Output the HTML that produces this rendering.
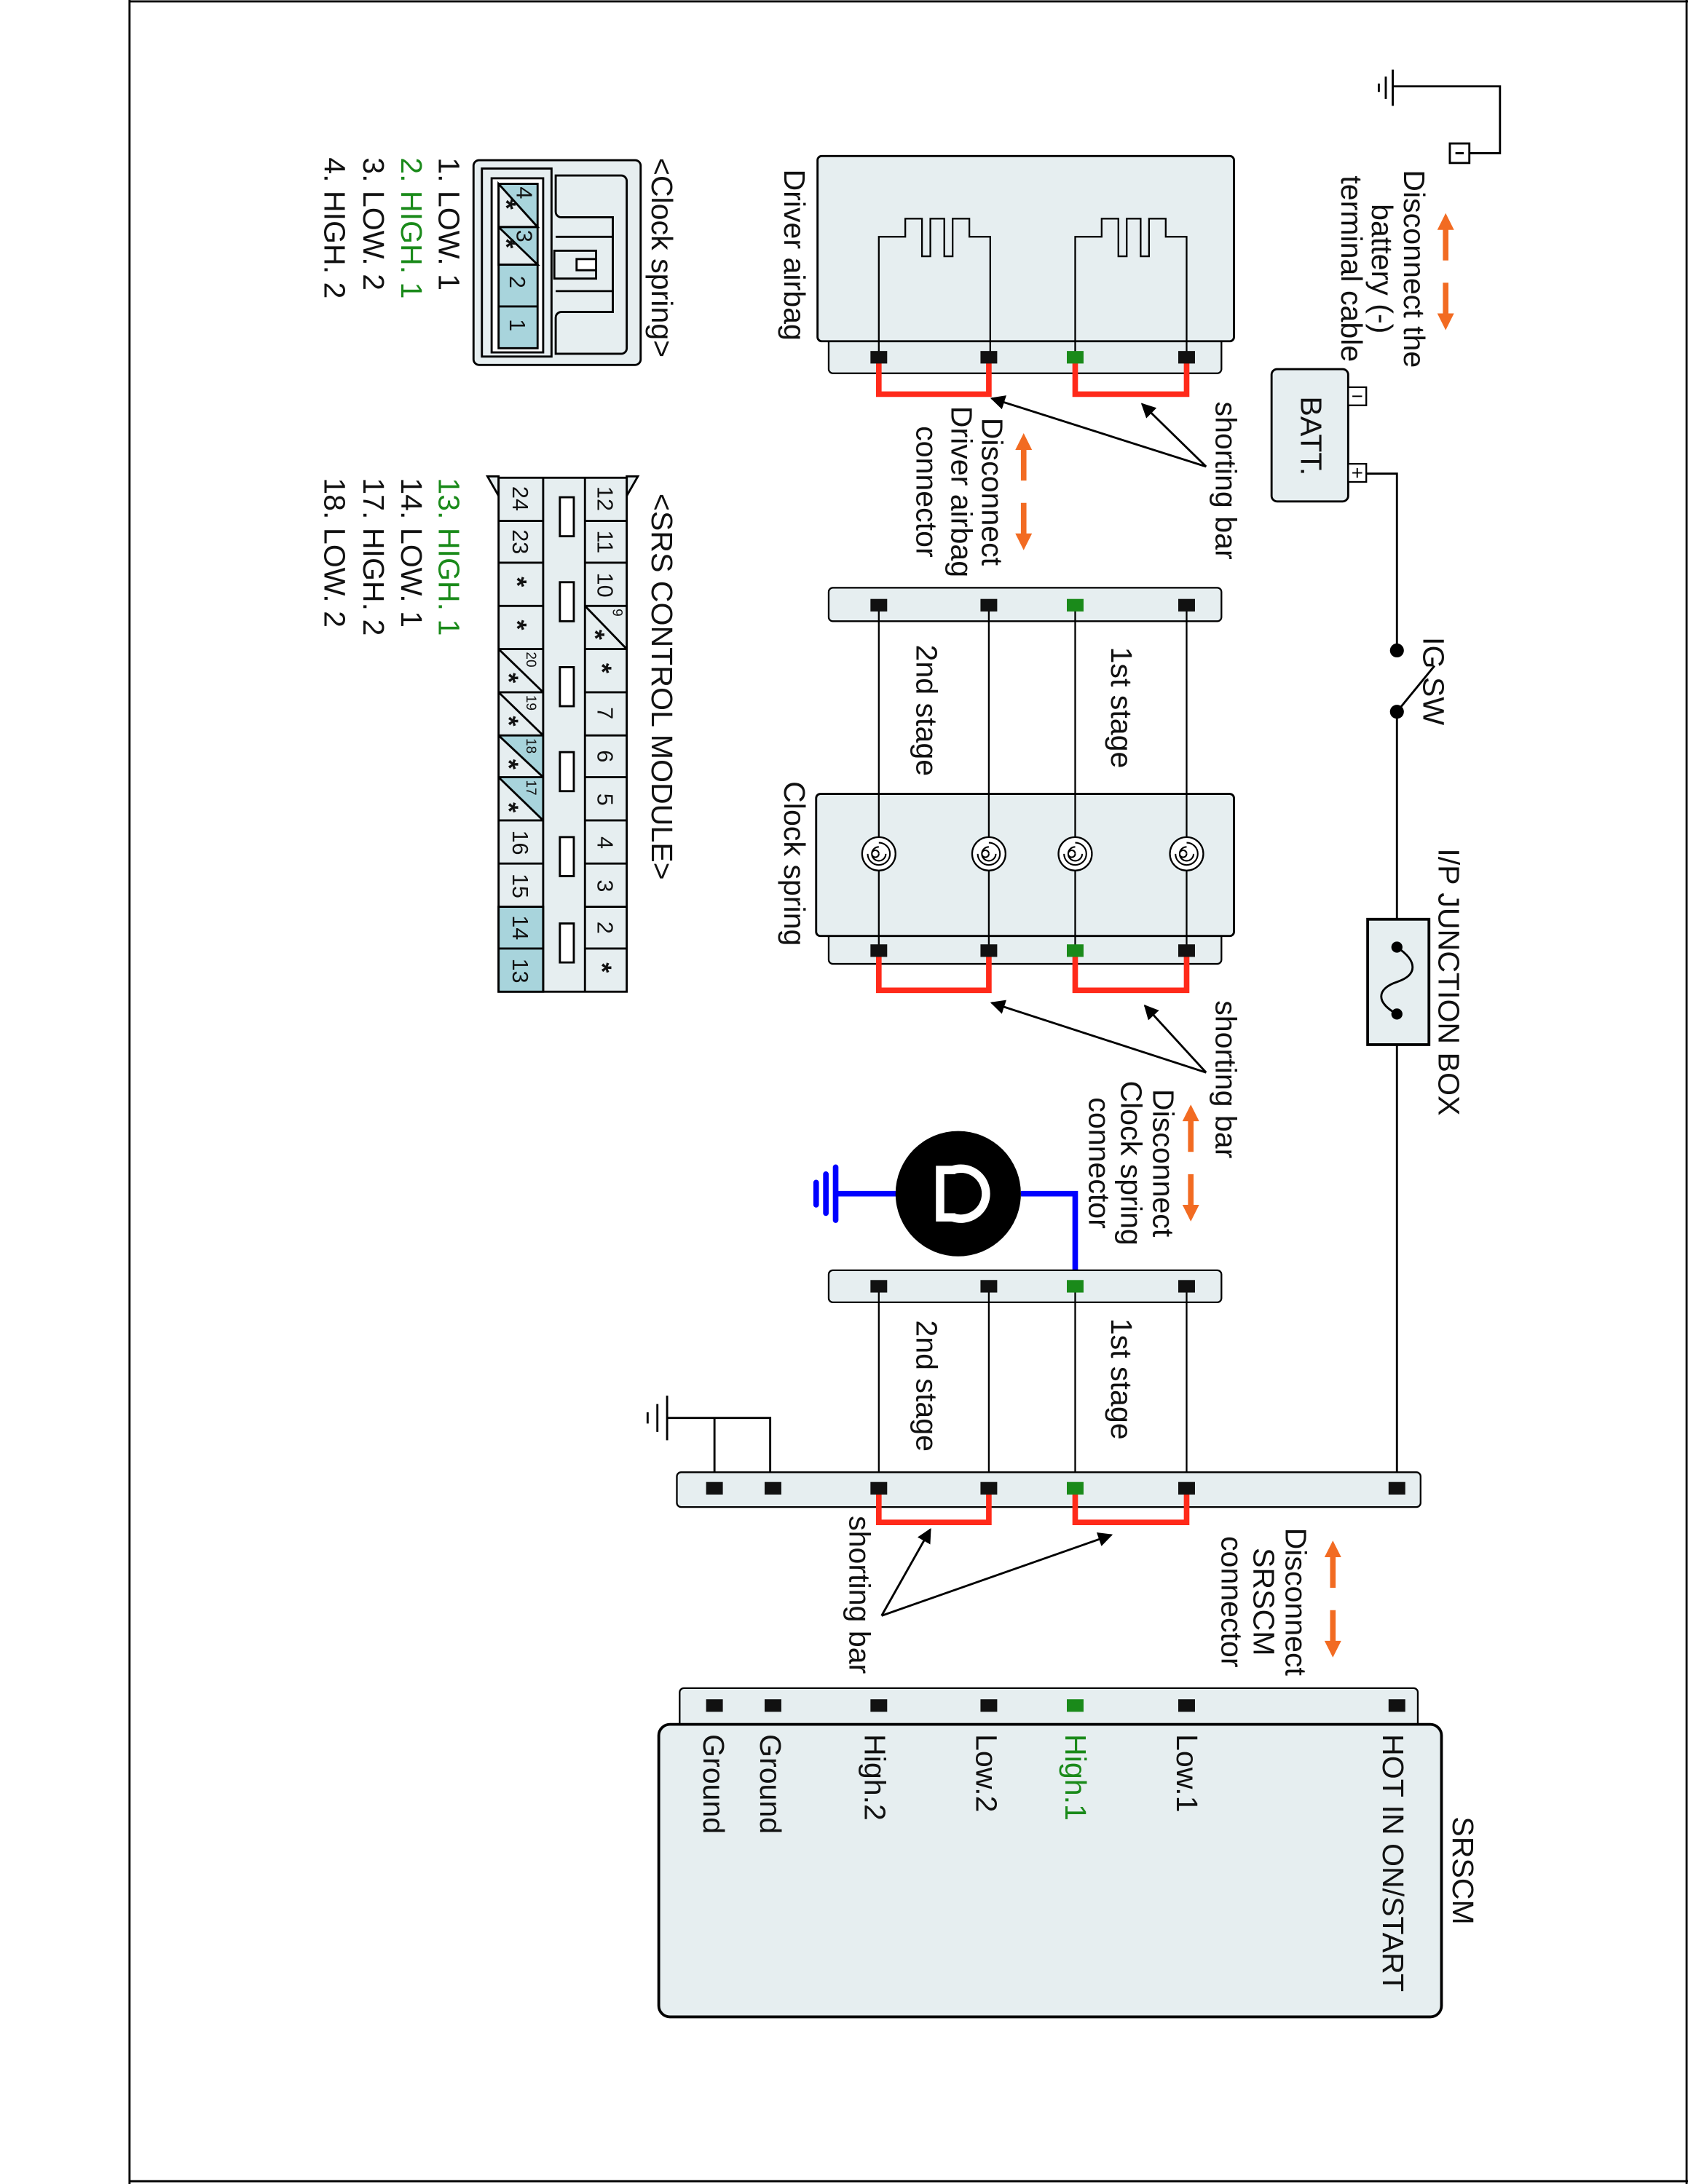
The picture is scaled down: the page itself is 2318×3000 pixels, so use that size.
<!DOCTYPE html>
<html><head><meta charset="utf-8">
<style>
html,body{margin:0;padding:0;background:#fff;}
svg{display:block;}
text{font-family:"Liberation Sans",Arial,sans-serif;font-size:21.5px;fill:#111;}
.g{fill:#1a8a1a;}
.s{font-size:16px;}
.st{font-size:19px;font-weight:bold;}
.xs{font-size:10px;}
</style></head><body>
<svg width="2318" height="3000" viewBox="0 0 1212 1568" preserveAspectRatio="none" xmlns="http://www.w3.org/2000/svg">
<defs>
<marker id="ah" viewBox="0 0 10 10" refX="9" refY="5" markerWidth="7" markerHeight="7" orient="auto"><path d="M0,0 L10,5 L0,10 z" fill="#000"/></marker>
<g id="oarr">
<path d="M0,-42 l-6,12 h12 z M0,42 l-6,-12 h12 z" fill="#f26b22"/>
<path d="M0,-32 V-8 M0,8 V32" stroke="#f26b22" stroke-width="4"/>
</g>
</defs>
<rect x="0" y="0" width="1212" height="1568" fill="#fff"/>
<line x1="93" y1="0" x2="93" y2="1568" stroke="#000" stroke-width="1.5"/>
<line x1="1211" y1="0" x2="1211" y2="1568" stroke="#000" stroke-width="1.5"/>
<line x1="93" y1="1" x2="1212" y2="1" stroke="#000" stroke-width="1.5"/>
<line x1="93" y1="1566" x2="1212" y2="1566" stroke="#000" stroke-width="1.5"/>

<!-- battery ground -->
<g stroke="#000" stroke-width="1.5" fill="none">
<path d="M990,60 v6 M995,55 v16 M1000,50 v26"/>
<path d="M1000,62 H1077 V110 H1055"/>
<rect x="1041" y="103" width="14" height="14" fill="#fff"/>
<path d="M1045,110 h6"/>
</g>
<use href="#oarr" x="1038" y="195"/>
<text transform="translate(1008,193) rotate(90)" text-anchor="middle">Disconnect the</text>
<text transform="translate(985,193) rotate(90)" text-anchor="middle">battery (-)</text>
<text transform="translate(963,193) rotate(90)" text-anchor="middle">terminal cable</text>

<!-- BATT -->
<rect x="913" y="265" width="55" height="95" rx="4" fill="#e6eef0" stroke="#000" stroke-width="1.5"/>
<text transform="translate(934,313) rotate(90)" text-anchor="middle">BATT.</text>
<rect x="968" y="278" width="13" height="13" fill="#fff" stroke="#000" stroke-width="1.2"/>
<path d="M971,284.5 h7" stroke="#000"/>
<rect x="968" y="333" width="13" height="13" fill="#fff" stroke="#000" stroke-width="1.2"/>
<path d="M971,339.5 h7 M974.5,336 v7" stroke="#000"/>
<g stroke="#000" stroke-width="1.5" fill="none">
<path d="M981,340 H1003 V467"/>
<path d="M1003,511 L1030,478"/>
<path d="M1003,511 V660 M1003,750 V1068"/>
</g>
<circle cx="1003" cy="467" r="5" fill="#000"/>
<circle cx="1003" cy="511" r="5" fill="#000"/>
<text transform="translate(1022,489) rotate(90)" text-anchor="middle">IG SW</text>
<!-- junction box -->
<rect x="982" y="660" width="44" height="90" fill="#e6eef0" stroke="#000" stroke-width="2"/>
<path d="M1003,680 C1018,690 1018,700 1003,705 C988,710 988,720 1003,728" stroke="#000" stroke-width="1.5" fill="none"/>
<circle cx="1003" cy="680" r="4" fill="#000"/><circle cx="1003" cy="728" r="4" fill="#000"/>
<text transform="translate(1033,705) rotate(90)" text-anchor="middle">I/P JUNCTION BOX</text>

<!-- Driver airbag -->
<rect x="595" y="240" width="282" height="28" rx="3" fill="#e6eef0" stroke="#000" stroke-width="1.2"/>
<rect x="587" y="112" width="299" height="133" rx="3" fill="#e6eef0" stroke="#000" stroke-width="1.5"/>
<g stroke="#000" stroke-width="1.2" fill="none">
<path d="M631,257 V170 H650 V157 H662 V184 H668 V157 H678 V184 H684 V157 H696 V170 H711 V257"/>
<path d="M772,257 V170 H791 V157 H803 V184 H809 V157 H819 V184 H825 V157 H837 V170 H852 V257"/>
</g>
<text transform="translate(563,183) rotate(90)" text-anchor="middle">Driver airbag</text>
<g stroke="#ff2a1a" stroke-width="4" fill="none">
<path d="M631,257 V283 H710 V257"/><path d="M772,257 V283 H852 V257"/>
</g>
<rect x="625" y="252" width="12" height="9" fill="#111"/><rect x="704" y="252" width="12" height="9" fill="#111"/>
<rect x="766" y="252" width="12" height="9" fill="#1a8a1a"/><rect x="846" y="252" width="12" height="9" fill="#111"/>
<text transform="translate(873,345) rotate(90)" text-anchor="middle">shorting bar</text>
<g stroke="#000" stroke-width="1.5" marker-end="url(#ah)">
<line x1="866" y1="335" x2="820" y2="290"/><line x1="866" y1="335" x2="712" y2="286"/>
</g>
<use href="#oarr" x="735" y="353"/>
<text transform="translate(705,353) rotate(90)" text-anchor="middle">Disconnect</text>
<text transform="translate(683,353) rotate(90)" text-anchor="middle">Driver airbag</text>
<text transform="translate(658,353) rotate(90)" text-anchor="middle">connector</text>

<!-- middle connector 1 -->
<rect x="595" y="422" width="282" height="24" rx="3" fill="#e6eef0" stroke="#000" stroke-width="1.2"/>
<g stroke="#000" stroke-width="1.2">
<path d="M631,434 V601 M710,434 V601 M772,434 V601 M852,434 V601 M631,625 V682 M710,625 V682 M772,625 V682 M852,625 V682"/>
</g>
<rect x="625" y="430" width="12" height="9" fill="#111"/><rect x="704" y="430" width="12" height="9" fill="#111"/>
<rect x="766" y="430" width="12" height="9" fill="#1a8a1a"/><rect x="846" y="430" width="12" height="9" fill="#111"/>
<text transform="translate(798,508) rotate(90)" text-anchor="middle">1st stage</text>
<text transform="translate(658,510) rotate(90)" text-anchor="middle">2nd stage</text>

<!-- Clock spring -->
<rect x="595" y="668" width="282" height="24" rx="3" fill="#e6eef0" stroke="#000" stroke-width="1.2"/>
<rect x="586" y="570" width="300" height="102" rx="3" fill="#e6eef0" stroke="#000" stroke-width="1.5"/>
<g stroke="#000" stroke-width="1.2" fill="none">
<path d="M631,570 V601 M710,570 V601 M772,570 V601 M852,570 V601 M631,625 V682 M710,625 V682 M772,625 V682 M852,625 V682"/>
</g>
<g stroke="#000" stroke-width="1.2" fill="#fff">
<circle cx="631" cy="613" r="12"/><circle cx="710" cy="613" r="12"/><circle cx="772" cy="613" r="12"/><circle cx="852" cy="613" r="12"/>
</g>
<g stroke="#000" stroke-width="1.1" fill="none">
<path d="M631,613 a2.5,2.5 0 1 1 0,-0.1 M631,608 a5,5 0 1 0 5,5 M631,605 a8,8 0 1 1 -8,8"/>
<path d="M710,613 a2.5,2.5 0 1 1 0,-0.1 M710,608 a5,5 0 1 0 5,5 M710,605 a8,8 0 1 1 -8,8"/>
<path d="M772,613 a2.5,2.5 0 1 1 0,-0.1 M772,608 a5,5 0 1 0 5,5 M772,605 a8,8 0 1 1 -8,8"/>
<path d="M852,613 a2.5,2.5 0 1 1 0,-0.1 M852,608 a5,5 0 1 0 5,5 M852,605 a8,8 0 1 1 -8,8"/>
</g>
<text transform="translate(563,620) rotate(90)" text-anchor="middle">Clock spring</text>
<g stroke="#ff2a1a" stroke-width="4" fill="none">
<path d="M631,682 V711 H710 V682"/><path d="M772,682 V711 H852 V682"/>
</g>
<rect x="625" y="678" width="12" height="9" fill="#111"/><rect x="704" y="678" width="12" height="9" fill="#111"/>
<rect x="766" y="678" width="12" height="9" fill="#1a8a1a"/><rect x="846" y="678" width="12" height="9" fill="#111"/>
<text transform="translate(873,775) rotate(90)" text-anchor="middle">shorting bar</text>
<g stroke="#000" stroke-width="1.5" marker-end="url(#ah)">
<line x1="866" y1="770" x2="822" y2="722"/><line x1="866" y1="770" x2="712" y2="720"/>
</g>
<use href="#oarr" x="855" y="835"/>
<text transform="translate(828,835) rotate(90)" text-anchor="middle">Disconnect</text>
<text transform="translate(805,835) rotate(90)" text-anchor="middle">Clock spring</text>
<text transform="translate(782,835) rotate(90)" text-anchor="middle">connector</text>

<!-- Horn -->
<path d="M733,857 H772 V922" stroke="#0000ff" stroke-width="4" fill="none"/>
<path d="M643,857 H600 M600,838 V876 M593,843 V871 M586,849 V865" stroke="#0000ff" stroke-width="4" fill="none" stroke-linecap="round"/>
<circle cx="688" cy="857" r="45" fill="#000"/>
<path d="M684,840 A18,18 0 1 1 684,874" stroke="#fff" stroke-width="6" fill="none"/>
<path d="M672,837 H686 V843 H678 V871 H686 V877 H672 Z" fill="#fff"/>

<!-- connector 3 -->
<rect x="595" y="912" width="282" height="23" rx="3" fill="#e6eef0" stroke="#000" stroke-width="1.2"/>
<g stroke="#000" stroke-width="1.2">
<path d="M631,923 V1068 M710,923 V1068 M772,923 V1068 M852,923 V1068"/>
</g>
<rect x="625" y="919" width="12" height="9" fill="#111"/><rect x="704" y="919" width="12" height="9" fill="#111"/>
<rect x="766" y="919" width="12" height="9" fill="#1a8a1a"/><rect x="846" y="919" width="12" height="9" fill="#111"/>
<text transform="translate(798,990) rotate(90)" text-anchor="middle">1st stage</text>
<text transform="translate(658,995) rotate(90)" text-anchor="middle">2nd stage</text>

<!-- ground -->
<g stroke="#000" stroke-width="1.5" fill="none">
<path d="M465,1014 v8 M472,1008 v20 M479,1002 v32"/>
<path d="M479,1018 H553 V1068 M513,1018 V1068"/>
</g>

<!-- SRSCM connector -->
<rect x="486" y="1057" width="534" height="25" rx="3" fill="#e6eef0" stroke="#000" stroke-width="1.2"/>
<g stroke="#ff2a1a" stroke-width="4" fill="none">
<path d="M631,1068 V1093 H710 V1068"/><path d="M772,1068 V1093 H852 V1068"/>
</g>
<rect x="507" y="1064" width="12" height="9" fill="#111"/><rect x="549" y="1064" width="12" height="9" fill="#111"/>
<rect x="625" y="1064" width="12" height="9" fill="#111"/><rect x="704" y="1064" width="12" height="9" fill="#111"/>
<rect x="766" y="1064" width="12" height="9" fill="#1a8a1a"/><rect x="846" y="1064" width="12" height="9" fill="#111"/>
<rect x="997" y="1064" width="12" height="9" fill="#111"/>
<text transform="translate(610,1145) rotate(90)" text-anchor="middle">shorting bar</text>
<g stroke="#000" stroke-width="1.5" marker-end="url(#ah)">
<line x1="633" y1="1160" x2="668" y2="1098"/><line x1="633" y1="1160" x2="798" y2="1102"/>
</g>
<use href="#oarr" x="957" y="1148"/>
<text transform="translate(923,1150) rotate(90)" text-anchor="middle">Disconnect</text>
<text transform="translate(900,1150) rotate(90)" text-anchor="middle">SRSCM</text>
<text transform="translate(877,1150) rotate(90)" text-anchor="middle">connector</text>

<!-- SRSCM -->
<rect x="488" y="1212" width="530" height="28" rx="3" fill="#e6eef0" stroke="#000" stroke-width="1.2"/>
<rect x="473" y="1238" width="562" height="210" rx="8" fill="#e6eef0" stroke="#000" stroke-width="2"/>
<rect x="507" y="1220" width="12" height="9" fill="#111"/><rect x="549" y="1220" width="12" height="9" fill="#111"/>
<rect x="625" y="1220" width="12" height="9" fill="#111"/><rect x="704" y="1220" width="12" height="9" fill="#111"/>
<rect x="766" y="1220" width="12" height="9" fill="#1a8a1a"/><rect x="846" y="1220" width="12" height="9" fill="#111"/>
<rect x="997" y="1220" width="12" height="9" fill="#111"/>
<text transform="translate(993,1245) rotate(90)">HOT IN ON/START</text>
<text transform="translate(845,1245) rotate(90)">Low.1</text>
<text class="g" transform="translate(765,1245) rotate(90)">High.1</text>
<text transform="translate(701,1245) rotate(90)">Low.2</text>
<text transform="translate(621,1245) rotate(90)">High.2</text>
<text transform="translate(546,1245) rotate(90)">Ground</text>
<text transform="translate(505,1245) rotate(90)">Ground</text>
<text transform="translate(1043,1343) rotate(90)" text-anchor="middle">SRSCM</text>

<!-- Clock spring connector detail -->
<text transform="translate(468,185) rotate(90)" text-anchor="middle">&lt;Clock spring&gt;</text>
<g stroke="#000" stroke-width="1.5">
<rect x="340" y="115" width="120" height="147" rx="4" fill="#e6eef0"/>
<rect x="346" y="121" width="50" height="135" fill="#e6eef0"/>
<rect x="353" y="128" width="37" height="125" fill="#fff"/>
<rect x="358" y="132" width="28" height="118" fill="#a8d4dc"/>
<path d="M358,132 L386,163 L358,163 Z M358,163 L386,190 L358,190 Z" fill="#e6eef0"/>
<path d="M358,163 H386 M358,190 H386 M358,220 H386" fill="none"/>
<path d="M399,126 V152 A4,4 0 0 0 403,156 H440 V224 H403 A4,4 0 0 0 399,228 V254 H446 A4,4 0 0 0 450,250 V130 A4,4 0 0 0 446,126 Z" fill="#e6eef0"/>
<path d="M399,170 H440 M399,209 H440" fill="none"/>
<rect x="398" y="180" width="30" height="20" fill="#e6eef0"/>
<rect x="414" y="186" width="14" height="8" fill="#fff"/>
</g>
<text class="s" transform="translate(371,134) rotate(90)">4</text>
<text class="s" transform="translate(371,165) rotate(90)">3</text>
<text class="st" transform="translate(357,143) rotate(90)">*</text>
<text class="st" transform="translate(357,171) rotate(90)">*</text>
<text class="s" transform="translate(366,198) rotate(90)">2</text>
<text class="s" transform="translate(366,229) rotate(90)">1</text>
<text transform="translate(315,113) rotate(90)">1. LOW. 1</text>
<text class="g" transform="translate(288,113) rotate(90)">2. HIGH. 1</text>
<text transform="translate(261,113) rotate(90)">3. LOW. 2</text>
<text transform="translate(233,113) rotate(90)">4. HIGH. 2</text>

<!-- SRS control module connector -->
<text transform="translate(468,493) rotate(90)" text-anchor="middle">&lt;SRS CONTROL MODULE&gt;</text>
<g stroke="#000" stroke-width="1.5">
<path d="M350,342 L358,356 V342 Z M458,342 L450,356 V342 Z" fill="#e6eef0"/>
<rect x="358" y="343" width="92" height="369" fill="#e6eef0"/>
<rect x="358" y="651" width="32" height="61" fill="#a8d4dc"/>
<path d="M358,528 L390,528 L390,558 Z M358,558 L390,558 L390,589 Z" fill="#a8d4dc" stroke="none"/>
<path d="M390,343 V712 M420,343 V712" fill="none"/>
<path d="M420,374 H450 M420,404 H450 M420,435 H450 M420,466 H450 M420,497 H450 M420,528 H450 M420,558 H450 M420,589 H450 M420,620 H450 M420,651 H450 M420,681 H450" fill="none"/>
<path d="M358,374 H390 M358,404 H390 M358,435 H390 M358,466 H390 M358,497 H390 M358,528 H390 M358,558 H390 M358,589 H390 M358,620 H390 M358,651 H390 M358,681 H390" fill="none"/>
<path d="M420,435 L450,466 M358,466 L390,497 M358,497 L390,528 M358,528 L390,558 M358,558 L390,589" fill="none"/>
<rect x="402" y="357" width="10" height="28" fill="#fff"/>
<rect x="402" y="418" width="10" height="28" fill="#fff"/>
<rect x="402" y="479" width="10" height="28" fill="#fff"/>
<rect x="402" y="540" width="10" height="28" fill="#fff"/>
<rect x="402" y="601" width="10" height="28" fill="#fff"/>
<rect x="402" y="663" width="10" height="28" fill="#fff"/>
</g>
<text class="s" transform="translate(429,358) rotate(90)" text-anchor="middle">12</text>
<text class="s" transform="translate(429,389) rotate(90)" text-anchor="middle">11</text>
<text class="s" transform="translate(429,420) rotate(90)" text-anchor="middle">10</text>
<text class="xs" transform="translate(440,437) rotate(90)">9</text>
<text class="st" transform="translate(421,452) rotate(90)">*</text>
<text class="st" transform="translate(426,476) rotate(90)">*</text>
<text class="s" transform="translate(429,512) rotate(90)" text-anchor="middle">7</text>
<text class="s" transform="translate(429,543) rotate(90)" text-anchor="middle">6</text>
<text class="s" transform="translate(429,574) rotate(90)" text-anchor="middle">5</text>
<text class="s" transform="translate(429,605) rotate(90)" text-anchor="middle">4</text>
<text class="s" transform="translate(429,636) rotate(90)" text-anchor="middle">3</text>
<text class="s" transform="translate(429,666) rotate(90)" text-anchor="middle">2</text>
<text class="st" transform="translate(426,691) rotate(90)">*</text>
<text class="s" transform="translate(368,358) rotate(90)" text-anchor="middle">24</text>
<text class="s" transform="translate(368,389) rotate(90)" text-anchor="middle">23</text>
<text class="st" transform="translate(365,414) rotate(90)">*</text>
<text class="st" transform="translate(365,445) rotate(90)">*</text>
<text class="xs" transform="translate(378,468) rotate(90)">20</text>
<text class="st" transform="translate(359,483) rotate(90)">*</text>
<text class="xs" transform="translate(378,499) rotate(90)">19</text>
<text class="st" transform="translate(359,514) rotate(90)">*</text>
<text class="xs" transform="translate(378,530) rotate(90)">18</text>
<text class="st" transform="translate(359,545) rotate(90)">*</text>
<text class="xs" transform="translate(378,560) rotate(90)">17</text>
<text class="st" transform="translate(359,576) rotate(90)">*</text>
<text class="s" transform="translate(368,605) rotate(90)" text-anchor="middle">16</text>
<text class="s" transform="translate(368,636) rotate(90)" text-anchor="middle">15</text>
<text class="s" transform="translate(368,666) rotate(90)" text-anchor="middle">14</text>
<text class="s" transform="translate(368,697) rotate(90)" text-anchor="middle">13</text>
<text class="g" transform="translate(315,343) rotate(90)">13. HIGH. 1</text>
<text transform="translate(288,343) rotate(90)">14. LOW. 1</text>
<text transform="translate(261,343) rotate(90)">17. HIGH. 2</text>
<text transform="translate(233,343) rotate(90)">18. LOW. 2</text>
</svg>
</body></html>
